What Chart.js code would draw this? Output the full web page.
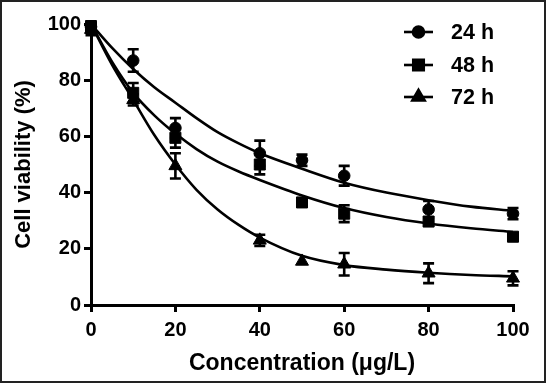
<!DOCTYPE html>
<html>
<head>
<meta charset="utf-8">
<script src="https://cdn.jsdelivr.net/npm/chart.js@4"></script>
<style>
  html, body { margin: 0; padding: 0; background: #fff; }
  #wrap { position: relative; width: 546px; height: 383px; }
  #frame { position: absolute; left: 0; top: 0; width: 546px; height: 383px; box-sizing: border-box; border: 2px solid #222; pointer-events: none; }
  canvas { display: block; }
</style>
</head>
<body>
<div id="wrap">
  <canvas id="c" width="546" height="383"></canvas>
  <div id="frame"></div>
</div>
<script>
// ---- data ----
const concentrations = [0, 10, 20, 40, 50, 60, 80, 100];
const viability24 = [99, 87, 63, 54, 51.5, 46, 34, 32.5];
const sd24 = [2, 4, 3.5, 4.5, 2, 3.5, 3, 2];
const viability48 = [99, 75.5, 59.5, 50, 36.5, 32.5, 29.7, 24.3];
const sd48 = [2, 3.5, 3.5, 3.5, 1.5, 3, 1.5, 1];
const viability72 = [98, 73, 49.5, 23, 15.5, 14.5, 11.3, 9.5];
const sd72 = [2, 2, 4.5, 2, 0, 4, 3.5, 2.5];

// fitted curves
const fitX = [0, 5, 10, 15, 20, 25, 30, 35, 40, 50, 60, 70, 80, 90, 100];
const fit24 = [100, 91.5, 84, 77.5, 72, 66.5, 61.5, 57.5, 54, 48.5, 43.5, 40, 37.3, 35, 33.5];
const fit48 = [100, 86.5, 75.5, 67.5, 61, 55.5, 51, 47.5, 44.5, 39, 34.5, 31.3, 29, 27.3, 26];
const fit72 = [100, 85.5, 73, 60.5, 50, 41, 34, 28.5, 24, 17.5, 14.2, 12.6, 11.5, 10.7, 10.2];

const seriesLabels = ['24 h', '48 h', '72 h'];
const xTicks = [0, 20, 40, 60, 80, 100];
const yTicks = [0, 20, 40, 60, 80, 100];
const xTitle = 'Concentration (\u03bcg/L)';
const yTitle = 'Cell viability (%)';

const FONT = '"Liberation Sans", Arial, Helvetica, sans-serif';
const styles = [
  { pointStyle: 'circle', radius: 5.8 },
  { pointStyle: 'rect', radius: 7.8 },
  { pointStyle: 'triangle', radius: 7.5 }
];
const means = [viability24, viability48, viability72];
const sds = [sd24, sd48, sd72];
const fits = [fit24, fit48, fit72];

const pts = (xs, ys) => xs.map((x, i) => ({ x: x, y: ys[i] }));

const datasets = [];
fits.forEach((f, i) => {
  datasets.push({
    type: 'line', label: 'fit ' + seriesLabels[i], data: pts(fitX, f),
    borderColor: '#000', borderWidth: 2.6, pointRadius: 0, fill: false,
    cubicInterpolationMode: 'monotone', clip: false
  });
});
means.forEach((m, i) => {
  datasets.push({
    type: 'scatter', label: seriesLabels[i], data: pts(concentrations, m),
    pointStyle: styles[i].pointStyle, pointRadius: styles[i].radius,
    pointBackgroundColor: '#000', pointBorderColor: '#000', pointBorderWidth: 1,
    showLine: false, clip: false
  });
});

const errorBars = {
  id: 'errorBars',
  afterDatasetsDraw(chart) {
    const ctx = chart.ctx, xs = chart.scales.x, ys = chart.scales.y;
    ctx.save();
    ctx.strokeStyle = '#000';
    ctx.lineWidth = 2.6;
    means.forEach((m, s) => {
      m.forEach((v, i) => {
        const e = sds[s][i];
        if (!e) return;
        const px = xs.getPixelForValue(concentrations[i]);
        const top = ys.getPixelForValue(v + e), bot = ys.getPixelForValue(v - e);
        ctx.beginPath();
        ctx.moveTo(px, top); ctx.lineTo(px, bot);
        ctx.moveTo(px - 5.5, top); ctx.lineTo(px + 5.5, top);
        ctx.moveTo(px - 5.5, bot); ctx.lineTo(px + 5.5, bot);
        ctx.stroke();
      });
    });
    ctx.restore();
  }
};

const customLegend = {
  id: 'customLegend',
  afterDraw(chart) {
    const ctx = chart.ctx;
    const x0 = 404, x1 = 433, tx = 451;
    const rows = [32, 65, 97];
    ctx.save();
    seriesLabels.forEach((lab, i) => {
      const y = rows[i];
      ctx.strokeStyle = '#000'; ctx.lineWidth = 2.6;
      ctx.beginPath(); ctx.moveTo(x0, y); ctx.lineTo(x1, y); ctx.stroke();
      ctx.fillStyle = '#000';
      Chart.helpers.drawPoint(ctx, { pointStyle: styles[i].pointStyle, radius: styles[i].radius * 0.95, rotation: 0, borderWidth: 1 }, (x0 + x1) / 2, y);
      ctx.fill();
      ctx.font = 'bold 21.5px ' + FONT;
      ctx.textBaseline = 'middle';
      ctx.textAlign = 'left';
      ctx.fillText(lab, tx, y + 1);
    });
    ctx.restore();
  }
};

new Chart(document.getElementById('c'), {
  type: 'scatter',
  data: { datasets: datasets },
  options: {
    responsive: false,
    animation: false,
    layout: { padding: { left: 4, top: 24, right: 33, bottom: 4 } },
    plugins: { legend: { display: false }, tooltip: { enabled: false } },
    scales: {
      x: {
        type: 'linear', min: 0, max: 100,
        afterBuildTicks: (s) => { s.ticks = xTicks.map(v => ({ value: v })); },
        afterFit: (s) => { s.height = 74; },
        border: { color: '#000', width: 3 },
        grid: { drawOnChartArea: false, color: '#000', lineWidth: 3, tickLength: 7, tickColor: '#000' },
        ticks: { color: '#000', padding: 6, font: { family: FONT, size: 20, weight: 'bold', lineHeight: 1.2 }, maxRotation: 0 },
        title: { display: true, text: xTitle, color: '#000', padding: { top: 0, bottom: 4 }, font: { family: FONT, size: 23, weight: 'bold', lineHeight: 1 } }
      },
      y: {
        type: 'linear', min: 0, max: 100,
        afterBuildTicks: (s) => { s.ticks = yTicks.map(v => ({ value: v })); },
        afterFit: (s) => { s.width = 87; },
        border: { color: '#000', width: 3 },
        grid: { drawOnChartArea: false, color: '#000', lineWidth: 3, tickLength: 7, tickColor: '#000' },
        ticks: { color: '#000', padding: 3, font: { family: FONT, size: 20, weight: 'bold' } },
        title: { display: true, text: yTitle, color: '#000', padding: { top: 9, bottom: 0 }, font: { family: FONT, size: 22, weight: 'bold', lineHeight: 1 } }
      }
    }
  },
  plugins: [errorBars, customLegend]
});
</script>
</body>
</html>
